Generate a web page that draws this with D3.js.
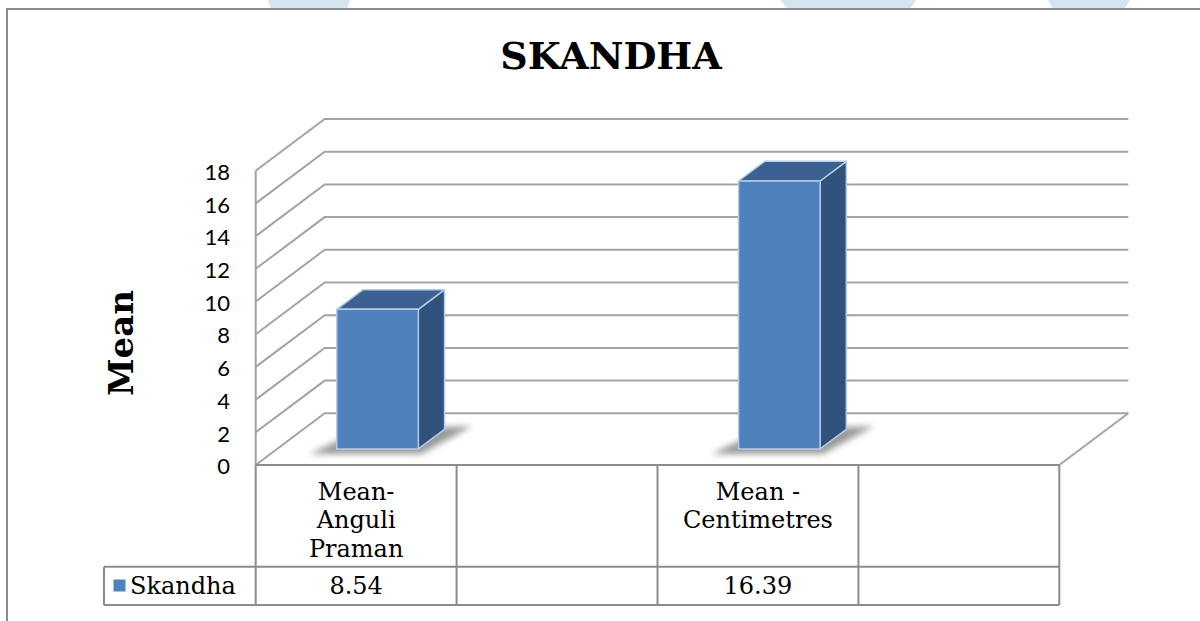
<!DOCTYPE html>
<html>
<head>
<meta charset="utf-8">
<script src="https://cdn.jsdelivr.net/npm/d3@7"></script>
<style>
  body { margin: 0; background: #fff; }
</style>
</head>
<body>
<script>
const chartTitle = 'SKANDHA';
const axisTitle = 'Mean';
const seriesName = 'Skandha';
const categories = [['Mean-', 'Anguli', 'Praman'], [], ['Mean -', 'Centimetres'], []];
const values = [8.54, null, 16.39, null];
const yTicks = [0, 2, 4, 6, 8, 10, 12, 14, 16, 18];

const width = 1200;
const height = 621;
const depth = { dx: 69, dy: -51.7 };
const barZ = [0.31, 0.69];
const serif = '"DejaVu Serif", serif';
const sans = 'Lato, "Liberation Sans", sans-serif';

const svg = d3
  .select('body')
  .append('svg')
  .attr('width', width)
  .attr('height', height);

// faint page decorations peeking above the frame
const deco = [
  [268, 350, 271, 347],
  [780, 916, 788, 910],
  [1048, 1130, 1053, 1124],
];
svg
  .append('g')
  .selectAll('path')
  .data(deco)
  .enter()
  .append('path')
  .attr('d', (d) => `M${d[0]},0 L${d[1]},0 L${d[3]},9 L${d[2]},9 Z`)
  .attr('fill', '#d3e5ef');

// chart frame
svg
  .append('path')
  .attr('d', `M7,${height} L7,9 L${width},9`)
  .attr('fill', 'none')
  .attr('stroke', '#8a8a8a')
  .attr('stroke-width', 2);

const x = d3
  .scaleBand()
  .domain(d3.range(categories.length))
  .range([255.7, 1059.3]);

const y = d3.scaleLinear().domain([0, 18]).range([465, 170.7]);

const x0 = x.range()[0];
const x1 = x.range()[1];
const proj = (px, py, z) => [px + z * depth.dx, py + z * depth.dy];

// gridlines on side + back walls
const grid = svg.append('g').attr('class', 'grid');
grid
  .selectAll('path')
  .data(yTicks)
  .enter()
  .append('path')
  .attr('d', (v) => {
    const a = proj(x0, y(v), 0);
    const b = proj(x0, y(v), 1);
    const c = proj(x1, y(v), 1);
    return `M${a} L${b} L${c}`;
  })
  .attr('fill', 'none')
  .attr('stroke', '#a3a3a3')
  .attr('stroke-width', 2);

// floor right edge
grid
  .append('path')
  .attr('d', `M${proj(x1, y(0), 0)} L${proj(x1, y(0), 1)}`)
  .attr('fill', 'none')
  .attr('stroke', '#a3a3a3')
  .attr('stroke-width', 2);

// left wall edge
grid
  .append('line')
  .attr('x1', x0)
  .attr('x2', x0)
  .attr('y1', y(18))
  .attr('y2', y(0))
  .attr('stroke', '#a3a3a3')
  .attr('stroke-width', 2);

// y tick labels
svg
  .append('g')
  .selectAll('text')
  .data(yTicks)
  .enter()
  .append('text')
  .attr('x', 230)
  .attr('y', (v) => y(v) + 1.5)
  .attr('dy', '0.35em')
  .attr('text-anchor', 'end')
  .style('font-family', sans)
  .style('font-size', '22px')
  .attr('fill', '#000')
  .text((v) => v);

// shadow filter
const defs = svg.append('defs');
defs
  .append('filter')
  .attr('id', 'blur')
  .attr('x', '-50%')
  .attr('y', '-50%')
  .attr('width', '200%')
  .attr('height', '200%')
  .append('feGaussianBlur')
  .attr('stdDeviation', 3);

const bars = values
  .map((v, i) => ({ v, i }))
  .filter((d) => d.v !== null);

const barGeom = (d) => {
  const cx = x(d.i) + x.bandwidth() / 2;
  const h = x.bandwidth() * 0.203;
  return { l: cx - h, r: cx + h, top: y(d.v), bot: y(0) };
};

const poly = (pts) => 'M' + pts.map((p) => p.join(',')).join(' L') + ' Z';

const barG = svg.append('g').attr('class', 'bars');

// floor shadows
barG
  .selectAll('path.shadow')
  .data(bars)
  .enter()
  .append('path')
  .attr('class', 'shadow')
  .attr('d', (d) => {
    const g = barGeom(d);
    return poly([
      proj(g.l - 26, g.bot + 4, barZ[0] - 0.02),
      proj(g.r + 4, g.bot + 4, barZ[0] - 0.02),
      proj(g.r + 26, g.bot - 2, barZ[1] + 0.02),
      proj(g.l, g.bot, barZ[1]),
    ]);
  })
  .attr('fill', '#6e6e6e')
  .attr('opacity', 0.7)
  .attr('filter', 'url(#blur)');

const faces = [
  {
    name: 'side',
    fill: '#30527b',
    pts: (g) => [
      proj(g.r, g.top, barZ[0]),
      proj(g.r, g.top, barZ[1]),
      proj(g.r, g.bot, barZ[1]),
      proj(g.r, g.bot, barZ[0]),
    ],
  },
  {
    name: 'top',
    fill: '#3a6192',
    pts: (g) => [
      proj(g.l, g.top, barZ[0]),
      proj(g.l, g.top, barZ[1]),
      proj(g.r, g.top, barZ[1]),
      proj(g.r, g.top, barZ[0]),
    ],
  },
  {
    name: 'front',
    fill: '#4f81bd',
    pts: (g) => [
      proj(g.l, g.top, barZ[0]),
      proj(g.r, g.top, barZ[0]),
      proj(g.r, g.bot, barZ[0]),
      proj(g.l, g.bot, barZ[0]),
    ],
  },
];

faces.forEach((f) => {
  barG
    .selectAll('path.' + f.name)
    .data(bars)
    .enter()
    .append('path')
    .attr('class', f.name)
    .attr('d', (d) => poly(f.pts(barGeom(d))))
    .attr('fill', f.fill)
    .attr('stroke', '#b4cbe6')
    .attr('stroke-width', 1.5)
    .attr('stroke-linejoin', 'round');
});

// data table
const rowTop = y(0);
const rowMid = 566.7;
const rowBot = 605;
const legendLeft = 104;
const table = svg.append('g').attr('class', 'table');
const tableLine = (xa, ya, xb, yb) =>
  table
    .append('line')
    .attr('x1', xa)
    .attr('y1', ya)
    .attr('x2', xb)
    .attr('y2', yb)
    .attr('stroke', '#8c8c8c')
    .attr('stroke-width', 2);

tableLine(x0, rowTop, x1, rowTop);
tableLine(legendLeft, rowMid, x1, rowMid);
tableLine(legendLeft, rowBot, x1, rowBot);
tableLine(legendLeft, rowMid, legendLeft, rowBot);
x.domain()
  .map((i) => x(i))
  .concat([x1])
  .forEach((bx) => tableLine(bx, rowTop, bx, rowBot));

// category labels
table
  .selectAll('text.cat')
  .data(categories)
  .enter()
  .append('text')
  .attr('class', 'cat')
  .attr('x', (d, i) => x(i) + x.bandwidth() / 2)
  .attr('y', 499.5)
  .attr('text-anchor', 'middle')
  .style('font-family', serif)
  .style('font-size', '24px')
  .attr('fill', '#000')
  .each(function (lines) {
    const t = d3.select(this);
    const cx = t.attr('x');
    lines.forEach((ln, k) => {
      t.append('tspan')
        .attr('x', cx)
        .attr('dy', k === 0 ? 0 : 28.8)
        .text(ln);
    });
  });

// values row
table
  .selectAll('text.val')
  .data(values)
  .enter()
  .append('text')
  .attr('class', 'val')
  .attr('x', (d, i) => x(i) + x.bandwidth() / 2)
  .attr('y', (rowMid + rowBot) / 2)
  .attr('dy', '0.35em')
  .attr('text-anchor', 'middle')
  .style('font-family', serif)
  .style('font-size', '24px')
  .attr('fill', '#000')
  .text((d) => (d === null ? '' : d.toFixed(2)));

// legend key
table
  .append('rect')
  .attr('x', 113.5)
  .attr('y', 579.5)
  .attr('width', 12)
  .attr('height', 12)
  .attr('fill', '#4f81bd');
table
  .append('text')
  .attr('x', 130)
  .attr('y', (rowMid + rowBot) / 2)
  .attr('dy', '0.35em')
  .style('font-family', serif)
  .style('font-size', '24px')
  .attr('fill', '#000')
  .text(seriesName);

// titles
svg
  .append('text')
  .attr('x', 611)
  .attr('y', 68.5)
  .attr('text-anchor', 'middle')
  .style('font-family', serif)
  .style('font-weight', 'bold')
  .style('font-size', '38px')
  .attr('fill', '#000')
  .text(chartTitle);

svg
  .append('text')
  .attr('transform', 'translate(133,343)rotate(-90)')
  .attr('text-anchor', 'middle')
  .style('font-family', serif)
  .style('font-weight', 'bold')
  .style('font-size', '34px')
  .attr('fill', '#000')
  .text(axisTitle);
</script>
</body>
</html>
